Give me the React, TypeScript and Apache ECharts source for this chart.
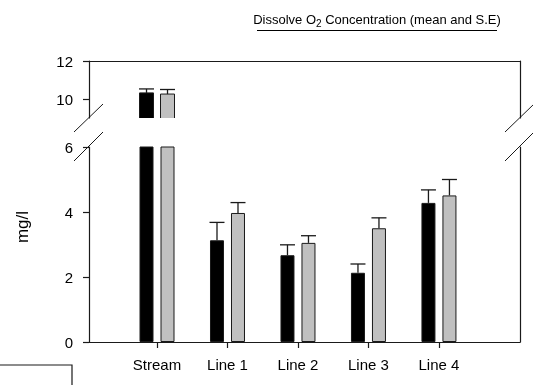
import React, { useEffect, useRef } from "react";
import * as echarts from "echarts";

const categories = ["Stream", "Line 1", "Line 2", "Line 3", "Line 4"];
const meanBlack = [10.32, 3.13, 2.67, 2.13, 4.28];
const seBlack = [0.21, 0.55, 0.32, 0.27, 0.4];
const meanGrey = [10.26, 3.97, 3.05, 3.5, 4.51];
const seGrey = [0.24, 0.32, 0.22, 0.32, 0.49];
const lowerTicks = [0, 2, 4, 6];
const upperTicks = [10, 12];
const LOWER_MAX = 6;
const UPPER_MIN = 9;
const UPPER_MAX = 12;

const FONT = "Liberation Sans, Arial, sans-serif";
const INK = "#1a1a1a";
const BLACK = "#000000";
const GREY = "#c0c0c0";
const BAR_W = 14;
const OFF = 10.5;

export default function App() {
  const ref = useRef<HTMLDivElement>(null);
  useEffect(() => {
    if (!ref.current) return;
    const chart = echarts.init(ref.current, null, { renderer: "svg" });
    const xPos = categories.map((_, i) => i + 1);
    const X_MIN = 0.035;
    const X_MAX = 6.15;
    const L = 89;
    const R = 13;

    const errSeries = (
      name: string,
      means: number[],
      ses: number[],
      off: number,
      upper: boolean
    ) => ({
      type: "custom",
      name,
      xAxisIndex: upper ? 0 : 1,
      yAxisIndex: upper ? 0 : 2,
      z: 5,
      encode: { x: 0, y: 1 },
      data: xPos
        .map((x, i) => [x, means[i], ses[i]])
        .filter((d) => (upper ? d[1] > UPPER_MIN : d[1] + d[2] <= LOWER_MAX)),
      renderItem: (_p: any, api: any) => {
        const x = api.value(0);
        const m = api.value(1);
        const e = api.value(2);
        const b = api.coord([x, m]);
        const t = api.coord([x, m + e]);
        const cx = b[0] + off;
        const st = { stroke: INK, lineWidth: 1.3 };
        return {
          type: "group",
          children: [
            { type: "line", shape: { x1: cx, y1: b[1], x2: cx, y2: t[1] }, style: st },
            { type: "line", shape: { x1: cx - 7.5, y1: t[1], x2: cx + 7.5, y2: t[1] }, style: st },
          ],
        };
      },
    });

    // upper (broken) section bars: drawn through the axis scale, clipped at the break
    const upperBars = (name: string, means: number[], off: number, color: string) => ({
      type: "custom",
      name,
      xAxisIndex: 0,
      yAxisIndex: 0,
      clip: true,
      encode: { x: 0, y: 1 },
      data: xPos.map((x, i) => [x, means[i]]).filter((d) => d[1] > UPPER_MIN),
      renderItem: (_p: any, api: any) => {
        const x = api.value(0);
        const v = api.value(1);
        const t = api.coord([x, v]);
        const b = api.coord([x, UPPER_MIN]);
        return {
          type: "rect",
          shape: { x: t[0] + off - BAR_W / 2, y: t[1], width: BAR_W, height: b[1] - t[1] + 4 },
          style: { fill: color, stroke: INK, lineWidth: 1 },
        };
      },
    });

    const barStyle = (color: string) => ({
      color,
      borderColor: INK,
      borderWidth: 1,
    });

    const hiddenAxis = {
      axisTick: { show: false },
      axisLabel: { show: false },
      splitLine: { show: false },
    };

    const lineStyle = { color: INK, width: 1.2 };
    const tickLabel = { fontSize: 15, fontFamily: FONT, color: "#000" };

    chart.setOption({
      animation: false,
      grid: [
        { left: L, right: R, top: 61, height: 57, outerBoundsMode: "none" },
        { left: L, right: R, top: 147, height: 195, outerBoundsMode: "none" },
      ],
      xAxis: [
        {
          type: "value",
          gridIndex: 0,
          min: X_MIN,
          max: X_MAX,
          position: "top",
          axisLine: { show: true, onZero: false, lineStyle },
          ...hiddenAxis,
        },
        {
          type: "value",
          gridIndex: 1,
          min: X_MIN,
          max: X_MAX,
          position: "bottom",
          axisLine: { show: true, onZero: false, lineStyle },
          axisTick: { show: true, length: 6, lineStyle, customValues: xPos },
          axisLabel: {
            show: true,
            customValues: xPos,
            margin: 15,
            ...tickLabel,
            formatter: (v: number) => categories[Math.round(v) - 1] ?? "",
          },
          splitLine: { show: false },
        },
      ],
      yAxis: [
        {
          type: "value",
          gridIndex: 0,
          min: UPPER_MIN,
          max: UPPER_MAX,
          position: "left",
          axisLine: { show: true, onZero: false, lineStyle },
          axisTick: { show: true, length: 6, lineStyle, customValues: upperTicks },
          axisLabel: { show: true, customValues: upperTicks, margin: 16, ...tickLabel },
          splitLine: { show: false },
        },
        {
          type: "value",
          gridIndex: 0,
          min: UPPER_MIN,
          max: UPPER_MAX,
          position: "right",
          axisLine: { show: true, onZero: false, lineStyle },
          ...hiddenAxis,
        },
        {
          type: "value",
          gridIndex: 1,
          min: 0,
          max: LOWER_MAX,
          interval: 2,
          position: "left",
          axisLine: { show: true, onZero: false, lineStyle },
          axisTick: { show: true, length: 6, lineStyle, customValues: lowerTicks },
          axisLabel: { show: true, customValues: lowerTicks, margin: 16, ...tickLabel },
          splitLine: { show: false },
        },
        {
          type: "value",
          gridIndex: 1,
          min: 0,
          max: LOWER_MAX,
          position: "right",
          axisLine: { show: true, onZero: false, lineStyle },
          ...hiddenAxis,
        },
      ],
      series: [
        upperBars("black-upper", meanBlack, -OFF, BLACK),
        upperBars("grey-upper", meanGrey, OFF, GREY),
        {
          type: "bar",
          name: "black-lower",
          xAxisIndex: 1,
          yAxisIndex: 2,
          barWidth: BAR_W,
          barGap: "50%",
          itemStyle: barStyle(BLACK),
          data: xPos.map((x, i) => [x, meanBlack[i]]),
        },
        {
          type: "bar",
          name: "grey-lower",
          xAxisIndex: 1,
          yAxisIndex: 2,
          barWidth: BAR_W,
          barGap: "50%",
          itemStyle: barStyle(GREY),
          data: xPos.map((x, i) => [x, meanGrey[i]]),
        },
        errSeries("err-black-upper", meanBlack, seBlack, -OFF, true),
        errSeries("err-grey-upper", meanGrey, seGrey, OFF, true),
        errSeries("err-black-lower", meanBlack, seBlack, -OFF, false),
        errSeries("err-grey-lower", meanGrey, seGrey, OFF, false),
      ],
      graphic: [
        {
          type: "text",
          x: 377,
          y: 19,
          style: {
            text: "{a|Dissolve O}{s|2}{a| Concentration (mean and S.E)}",
            align: "center",
            verticalAlign: "middle",
            fill: "#000",
            fontFamily: FONT,
            rich: {
              a: { fontSize: 13, lineHeight: 16, fontFamily: FONT, fill: "#000" },
              s: { fontSize: 10, lineHeight: 16, padding: [8, 0, 0, 0], fontFamily: FONT, fill: "#000" },
            },
          },
        },
        {
          type: "line",
          shape: { x1: 257, y1: 30.5, x2: 497, y2: 30.5 },
          style: { stroke: "#000", lineWidth: 1 },
        },
        {
          type: "text",
          x: 22,
          y: 227,
          rotation: Math.PI / 2,
          style: {
            text: "mg/l",
            align: "center",
            verticalAlign: "middle",
            fontSize: 17,
            fontFamily: FONT,
            fill: "#000",
          },
        },
        { type: "line", shape: { x1: 74, y1: 132, x2: 103, y2: 104 }, style: { stroke: INK, lineWidth: 1 } },
        { type: "line", shape: { x1: 74, y1: 161, x2: 103, y2: 132 }, style: { stroke: INK, lineWidth: 1 } },
        { type: "line", shape: { x1: 505, y1: 132, x2: 534, y2: 104 }, style: { stroke: INK, lineWidth: 1 } },
        { type: "line", shape: { x1: 505, y1: 161, x2: 534, y2: 132 }, style: { stroke: INK, lineWidth: 1 } },
        {
          type: "rect",
          shape: { x: -1, y: 365, width: 73, height: 40 },
          style: { fill: "none", stroke: INK, lineWidth: 1.2 },
        },
      ],
    });
    return () => chart.dispose();
  }, []);
  return (
    <div
      ref={ref}
      style={{ position: "fixed", left: 0, top: 0, width: 533, height: 385 }}
    />
  );
}
